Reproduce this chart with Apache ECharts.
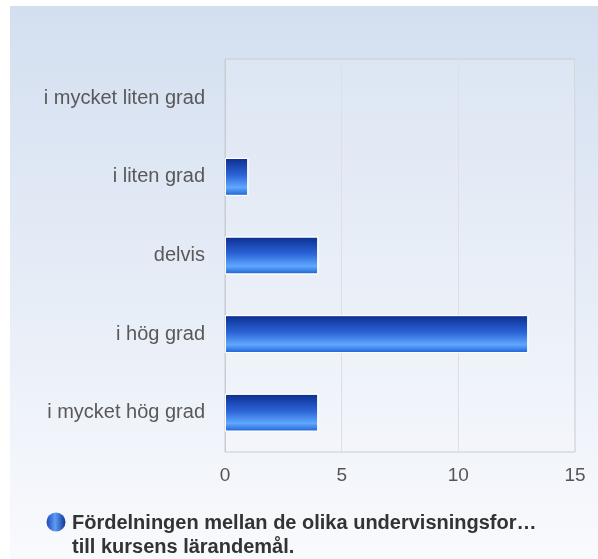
<!DOCTYPE html>
<html>
<head>
<meta charset="utf-8">
<script src="https://cdn.jsdelivr.net/npm/echarts@6/dist/echarts.min.js"></script>
<style>
  html, body { margin: 0; padding: 0; background: #fff; }
  #chart { width: 598px; height: 559px; }
</style>
</head>
<body>
<div id="chart"></div>
<script>
// categories listed bottom to top (ECharts draws category y axis from the bottom)
const categories = ['i mycket hög grad', 'i hög grad', 'delvis', 'i liten grad', 'i mycket liten grad'];
const counts = [4, 13, 4, 1, 0];
const xTicks = { min: 0, max: 15, interval: 5 };
const seriesName = 'Fördelningen mellan de olika undervisningsfor…\ntill kursens lärandemål.';

const myChart = echarts.init(document.getElementById('chart'), null, { renderer: 'canvas' });

const barGradient = new echarts.graphic.LinearGradient(0, 0, 0, 1, [
  { offset: 0, color: '#0b2d8e' },
  { offset: 0.45, color: '#2b63d6' },
  { offset: 0.78, color: '#5fa8ff' },
  { offset: 1, color: '#1c5fd2' },
]);

const option = {
  backgroundColor: 'transparent',
  textStyle: { fontFamily: 'Liberation Sans, Arial, sans-serif' },
  graphic: [
    {
      type: 'rect',
      left: 10,
      top: 6,
      z: -10,
      shape: { width: 588, height: 553 },
      style: {
        fill: new echarts.graphic.LinearGradient(0, 0, 0, 1, [
          { offset: 0, color: '#d3dff0' },
          { offset: 1, color: '#f9fafd' },
        ]),
      },
    },
    {
      // legend sphere, aligned with the first legend line
      type: 'circle',
      z: 10,
      shape: { cx: 56, cy: 522, r: 9.5 },
      style: {
        fill: new echarts.graphic.LinearGradient(0, 0, 1, 0, [
          { offset: 0, color: '#1a48b8' },
          { offset: 0.45, color: '#5f9cf5' },
          { offset: 1, color: '#0f3594' },
        ]),
      },
    },
  ],
  grid: {
    left: 225,
    right: 23,
    top: 59,
    bottom: 107,
    show: true,
    borderColor: '#c9ccd2',
    borderWidth: 1,
    backgroundColor: 'rgba(255,255,255,0.15)',
  },
  xAxis: {
    type: 'value',
    min: xTicks.min,
    max: xTicks.max,
    interval: xTicks.interval,
    axisLine: { show: false },
    axisTick: { show: false },
    splitLine: { show: true, lineStyle: { color: '#dcdfe5', width: 1 } },
    axisLabel: { color: '#555', fontSize: 19, margin: 14 },
  },
  yAxis: {
    type: 'category',
    data: categories,
    axisLine: { show: true, lineStyle: { color: '#c9ccd2' } },
    axisTick: { show: false },
    axisLabel: { color: '#595959', fontSize: 20, margin: 20 },
  },
  legend: {
    left: 48,
    top: 511,
    padding: 0,
    icon: 'none',
    itemWidth: 19,
    itemHeight: 19,
    textStyle: {
      color: '#333',
      fontSize: 20,
      fontWeight: 'bold',
      lineHeight: 24,
    },
  },
  series: [
    {
      name: seriesName,
      type: 'bar',
      data: counts.map((v) => (v === 0 ? '-' : v)),
      barWidth: 38,
      itemStyle: {
        color: barGradient,
        borderColor: '#ffffff',
        borderWidth: 1,
      },
    },
  ],
};

myChart.setOption(option);
</script>
</body>
</html>
